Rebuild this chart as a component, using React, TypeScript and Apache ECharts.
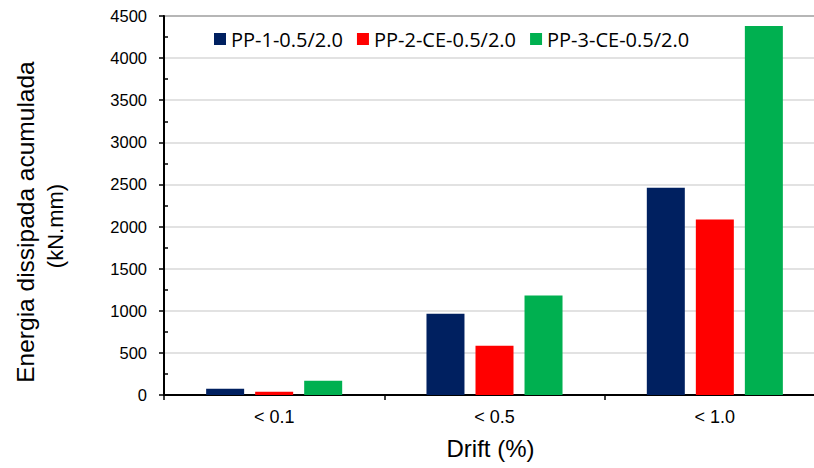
import React, { useEffect, useRef } from "react";
import * as echarts from "echarts";

const categories = ["< 0.1", "< 0.5", "< 1.0"];
const seriesNames = ["PP-1-0.5/2.0", "PP-2-CE-0.5/2.0", "PP-3-CE-0.5/2.0"];
const pp1 = [75, 965, 2460];
const pp2 = [40, 585, 2085];
const pp3 = [170, 1180, 4380];
const colors = ["#002060", "#FF0000", "#00B050"];
const yTitle1 = "Energia dissipada acumulada";
const yTitle2 = "(kN.mm)";
const xTitle = "Drift (%)";

export default function App() {
  const ref = useRef<HTMLDivElement>(null);
  useEffect(() => {
    if (!ref.current) return;
    const chart = echarts.init(ref.current, null, { renderer: "svg" });
    const data = [pp1, pp2, pp3];
    chart.setOption({
      animation: false,
      backgroundColor: "#ffffff",
      grid: {
        left: 164,
        top: 16,
        width: 661,
        height: 379,
        outerBoundsMode: "none",
        show: true,
        borderColor: "#1a1a1a",
        borderWidth: 1.5,
        backgroundColor: "transparent",
      },
      legend: {
        left: 214,
        top: 29,
        padding: 0,
        itemWidth: 12,
        itemHeight: 12,
        itemGap: 14,
        icon: "rect",
        textStyle: { fontFamily: "Open Sans", fontSize: 20, color: "#000" },
        data: seriesNames,
      },
      xAxis: {
        type: "category",
        data: categories,
        axisLine: { lineStyle: { color: "#000", width: 2 } },
        axisTick: { show: true, length: 5, lineStyle: { color: "#000", width: 1.5 } },
        axisLabel: { fontFamily: "Liberation Sans", fontSize: 18, color: "#000", margin: 13 },
        name: xTitle,
        nameLocation: "middle",
        nameGap: 41,
        nameTextStyle: { fontFamily: "Liberation Sans", fontSize: 24, color: "#000", padding: [0, 8, 0, 0] },
      },
      yAxis: [
        {
          type: "value",
          min: 0,
          max: 4500,
          interval: 500,
          axisLine: { show: true, lineStyle: { color: "#000", width: 2 } },
          axisTick: { show: true, length: 5, lineStyle: { color: "#000", width: 1.5 } },
          axisLabel: {
            fontFamily: "Liberation Sans",
            fontSize: 16.5,
            color: "#000",
            margin: 17,
            formatter: (v: number) => String(v),
          },
          splitLine: { show: true, lineStyle: { color: "#d9d9d9", width: 1.5 } },
        },
        {
          type: "value",
          position: "left",
          min: 0,
          max: 4500,
          interval: 500,
          axisLine: { show: false },
          axisTick: { show: false, inside: true },
          minorTick: { show: true, splitNumber: 2, length: 4, lineStyle: { color: "#000", width: 1.5 } },
          axisLabel: { show: false },
          splitLine: { show: false },
        },
      ],
      graphic: [
        {
          type: "text",
          x: 25,
          y: 222,
          rotation: Math.PI / 2,
          style: {
            text: yTitle1,
            fontFamily: "Liberation Sans",
            fontSize: 24.5,
            fill: "#000",
            textAlign: "center",
            textVerticalAlign: "middle",
          },
        },
        {
          type: "text",
          x: 55,
          y: 226,
          rotation: Math.PI / 2,
          style: {
            text: yTitle2,
            fontFamily: "Liberation Sans",
            fontSize: 22,
            fill: "#000",
            textAlign: "center",
            textVerticalAlign: "middle",
          },
        },
      ],
      series: seriesNames.map((name, i) => ({
        name,
        type: "bar",
        yAxisIndex: 0,
        data: data[i],
        barWidth: 38,
        barGap: "29%",
        itemStyle: { color: colors[i] },
      })),
    });
    return () => chart.dispose();
  }, []);
  return (
    <div
      ref={ref}
      style={{ position: "fixed", left: 0, top: 0, width: 830, height: 468 }}
    />
  );
}
